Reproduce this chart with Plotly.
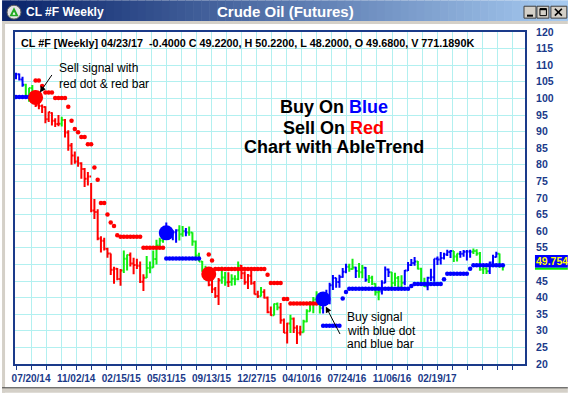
import plotly.graph_objects as go

# ---------------- data (weekly bars, 06/15/14 ... 04/23/17) ----------------
weeks = list(range(150))

opens = [106.9, 107.3, 105.7, 104.1, 100.8, 103.1, 102.1, 97.9, 97.7, 97.4,
         93.7, 95.6, 93.3, 92.3, 92.4, 93.5, 89.7, 85.8, 82.8, 81.0,
         80.5, 78.7, 75.8, 76.5, 66.2, 65.8, 57.8, 57.1, 54.7, 53.3,
         48.4, 48.7, 45.6, 48.2, 51.7, 52.8, 50.3, 49.8, 49.6, 44.8,
         46.0, 48.9, 49.1, 51.6, 55.7, 57.2, 59.2, 59.4, 59.7, 59.7,
         60.3, 59.1, 60.0, 59.6, 59.6, 56.9, 52.7, 50.9, 48.1, 47.1,
         43.9, 42.5, 40.5, 45.2, 46.05, 44.6, 44.7, 45.7, 45.5, 49.6,
         47.3, 44.6, 46.6, 44.3, 41.0, 40.4, 41.7, 39.97, 35.6, 34.7,
         38.1, 37.0, 33.2, 29.4, 32.2, 33.6, 30.9, 29.4, 29.6, 32.8,
         35.9, 38.5, 39.4, 39.5, 36.8, 39.7, 38.5, 43.7, 45.9, 44.7,
         46.2, 47.8, 49.3, 48.6, 49.1, 48.0, 47.6, 49.0, 45.4, 45.95,
         44.2, 41.6, 41.8, 44.5, 48.5, 47.6, 44.4, 45.9, 43.0, 44.5,
         48.2, 49.8, 50.4, 50.85, 48.7, 44.1, 43.4, 46.0, 46.1, 51.7,
         51.5, 51.9, 53.0, 53.7, 54.0, 52.4, 53.2, 53.2, 53.8, 53.9,
         53.8, 54.0, 53.3, 48.5, 48.8, 47.97, 50.6, 52.2, 53.2, 49.68]
highs = [107.7, 107.5, 106.5, 104.4, 103.2, 104.0, 102.3, 98.7, 98.2, 97.6,
         96.0, 95.8, 94.0, 95.0, 94.5, 93.8, 90.4, 86.6, 84.0, 82.5,
         80.8, 79.0, 77.8, 74.5, 69.7, 66.6, 58.5, 58.0, 55.0, 53.3,
         49.3, 48.9, 48.6, 54.2, 53.0, 53.6, 52.0, 51.7, 50.9, 47.0,
         52.5, 50.9, 54.2, 57.4, 58.0, 59.9, 62.6, 61.2, 60.3, 60.6,
         61.8, 61.6, 61.0, 61.4, 59.7, 57.2, 53.5, 51.0, 49.6, 47.8,
         45.3, 43.2, 45.9, 49.3, 47.7, 47.6, 47.0, 46.7, 50.9, 49.8,
         47.9, 47.1, 48.4, 45.0, 42.1, 43.2, 42.5, 40.3, 37.3, 38.2,
         38.5, 38.4, 33.7, 32.4, 34.8, 34.0, 31.7, 31.5, 33.3, 36.5,
         38.9, 40.2, 41.9, 39.7, 39.9, 42.4, 44.5, 46.8, 46.0, 46.9,
         48.9, 50.2, 50.2, 51.7, 49.3, 50.4, 49.8, 49.2, 46.8, 46.6,
         44.3, 42.5, 45.2, 49.4, 48.8, 47.7, 47.5, 46.5, 46.7, 48.3,
         50.7, 51.6, 52.2, 51.0, 49.0, 46.0, 46.3, 48.7, 51.7, 52.4,
         53.7, 53.5, 54.4, 54.3, 54.0, 53.3, 54.0, 54.3, 54.3, 54.4,
         54.8, 54.6, 53.7, 49.4, 49.1, 50.9, 52.9, 53.8, 53.3, 50.22]
lows = [105.8, 105.4, 103.5, 100.4, 99.0, 101.6, 97.4, 96.7, 95.6, 92.5,
        92.9, 91.8, 91.4, 91.6, 91.5, 88.2, 84.2, 80.0, 80.3, 79.4,
        75.8, 73.3, 73.8, 65.7, 63.7, 57.3, 53.6, 54.2, 52.0, 46.8,
        44.2, 45.2, 43.6, 47.4, 48.2, 49.4, 47.0, 48.6, 44.4, 42.0,
        45.9, 47.3, 49.0, 50.0, 54.8, 56.5, 58.0, 58.5, 57.3, 56.5,
        57.2, 58.3, 58.5, 58.6, 55.6, 51.2, 50.9, 47.8, 46.7, 43.4,
        41.4, 39.9, 37.75, 44.2, 43.6, 43.2, 43.6, 43.7, 45.2, 45.6,
        43.9, 42.6, 43.9, 40.9, 39.9, 40.3, 39.7, 35.3, 34.5, 34.6,
        36.2, 32.1, 29.3, 26.2, 29.3, 29.3, 26.05, 28.6, 29.5, 32.6,
        35.8, 35.3, 38.3, 35.2, 35.2, 39.6, 38.0, 42.3, 43.0, 43.0,
        46.0, 47.3, 47.8, 48.4, 45.9, 46.0, 45.8, 44.8, 44.4, 43.8,
        40.6, 39.2, 40.9, 44.3, 46.2, 43.0, 43.5, 42.9, 42.9, 43.7,
        48.0, 49.5, 49.6, 48.5, 44.0, 43.2, 42.2, 45.0, 44.8, 49.8,
        50.0, 51.5, 52.5, 51.9, 50.7, 50.9, 52.0, 52.3, 51.2, 52.0,
        53.1, 52.6, 48.1, 47.1, 47.1, 47.1, 50.0, 52.1, 49.0, 48.2]
closes = [107.3, 105.7, 104.1, 100.8, 103.1, 102.1, 97.9, 97.7, 97.4, 93.7,
          95.9, 93.3, 92.3, 92.4, 93.5, 89.7, 85.8, 82.8, 81.0, 80.5,
          78.7, 75.8, 76.5, 66.2, 65.8, 57.8, 57.1, 54.7, 53.3, 48.4,
          48.7, 45.6, 48.2, 51.7, 52.8, 50.3, 49.8, 49.6, 44.8, 46.0,
          48.9, 49.1, 51.6, 55.7, 57.2, 59.2, 59.4, 59.7, 59.7, 60.3,
          59.1, 60.0, 59.6, 59.6, 56.9, 52.7, 50.9, 48.1, 47.1, 43.9,
          42.5, 40.5, 45.2, 46.05, 44.6, 44.7, 45.7, 45.5, 49.6, 47.3,
          44.6, 46.6, 44.3, 41.0, 40.4, 41.7, 39.97, 35.6, 34.7, 38.1,
          37.04, 33.2, 29.4, 32.2, 33.6, 30.9, 29.4, 29.6, 32.8, 35.9,
          38.5, 39.4, 39.5, 36.8, 39.7, 40.4, 43.7, 45.9, 44.7, 46.2,
          47.8, 49.3, 48.6, 49.1, 48.0, 47.6, 49.0, 45.4, 45.95, 44.2,
          41.6, 41.8, 44.5, 48.5, 47.6, 44.4, 45.9, 43.0, 44.5, 48.2,
          49.8, 50.4, 50.85, 48.7, 44.1, 43.4, 46.0, 46.1, 51.7, 51.5,
          51.9, 53.0, 53.7, 54.0, 52.4, 53.2, 53.2, 53.8, 53.9, 53.8,
          54.0, 53.3, 48.5, 48.8, 47.97, 50.6, 52.2, 53.2, 49.6, 49.22]

# B = blue bar (up trend), G = green bar (neutral), R = red bar (down trend)
bar_trend = ("BBBGGGRRRRRRRRGRRRRRRRRRRRRRRRRRRGGRRRRRGGGGGGBBBBGGBGGGGGG"
             "RRRRGGRGGGRRRRRRGRRRGGRRRGRRRGGGGGGBBBBBBBBGGBGGBGGGGBBBGGGG"
             "BBBBGGGBBBBBBBBGGBBBBGGGGGBBBGG")

red_stop_weeks = [6, 7, 8, 9, 10, 11, 12, 13, 14, 15, 16, 17, 18, 19, 20, 21,
                  22, 23, 24, 25, 26, 27, 28, 29, 30, 31, 32, 33, 34, 35, 36,
                  37, 38, 39, 40, 41, 42, 43, 44, 45,
                  59, 60, 61, 62, 63, 64, 65, 66, 67, 68, 69, 70, 71, 72, 73,
                  74, 75, 76, 77, 78, 79, 80, 81, 82, 83, 84, 85, 86, 87, 88,
                  89, 90, 91, 92]
red_stop_values = [105.4, 105.4, 103.7, 101.8, 101.8, 101.8, 100.1, 100.1,
                   100.1, 100.1, 97.5, 93.3, 90.8, 89.8, 88.4, 88.4, 86.2,
                   86.2, 79.2, 75.5, 68.5, 68.5, 65.0, 62.6, 61.6, 58.8, 58.3,
                   58.3, 58.3, 58.3, 58.3, 58.3, 58.3, 55.0, 55.0, 55.0, 55.0,
                   55.0, 55.0, 55.0,
                   53.0, 51.2, 48.6, 48.6, 48.6, 48.6, 48.6, 48.6, 48.6, 48.6,
                   48.6, 48.6, 48.6, 48.6, 48.6, 48.6, 48.6, 48.6, 46.9, 44.4,
                   44.4, 44.4, 44.4, 39.6, 39.6, 38.2, 38.2, 38.2, 38.2, 38.2,
                   38.2, 38.2, 38.2, 38.2]
blue_stop_weeks = [0, 1, 2, 3, 4, 5,
                   46, 47, 48, 49, 50, 51, 52, 53, 54, 55, 56,
                   94, 95, 96, 97, 98, 99, 100, 101, 102, 103, 104, 105, 106,
                   107, 108, 109, 110, 111, 112, 113, 114, 115, 116, 117, 118,
                   119, 120, 121, 122, 123, 124, 125, 126, 127, 128, 129, 130,
                   131, 132, 133, 134, 135, 136, 137, 138, 139, 140, 141, 142,
                   143, 144, 145, 146, 147, 148, 149]
blue_stop_values = [100.4, 100.4, 100.4, 100.4, 100.4, 100.4,
                    51.8, 51.8, 51.8, 51.8, 51.8, 51.8, 51.8, 51.8, 51.8, 51.8,
                    51.8,
                    31.5, 31.5, 31.5, 31.5, 31.5, 31.5, 39.7, 41.7, 42.7, 42.7,
                    42.7, 42.7, 42.7, 42.7, 42.7, 42.7, 42.7, 42.7, 42.7, 42.7,
                    42.7, 42.7, 42.7, 42.7, 42.7, 42.7, 42.7, 43.5, 44.1, 44.1,
                    44.1, 44.1, 44.1, 44.1, 44.1, 44.1, 44.1, 45.5, 47.2, 47.2,
                    47.2, 47.2, 47.2, 47.2, 47.2, 48.7, 49.75, 49.75, 49.75,
                    49.75, 49.75, 49.75, 49.75, 49.75, 49.75, 49.75]

sell_signal_weeks = [6, 59]
sell_signal_prices = [100.3, 47.1]
buy_signal_weeks = [46, 94]
buy_signal_prices = [59.5, 39.6]

date_labels = ["07/20/14", "11/02/14", "02/15/15", "05/31/15", "09/13/15",
               "12/27/15", "04/10/16", "07/24/16", "11/06/16", "02/19/17"]
price_ticks = [20, 25, 30, 35, 40, 45, 50, 55, 60, 65, 70, 75, 80, 85, 90,
               95, 100, 105, 110, 115, 120]
# the "50" label is covered by the last-value marker in the original
price_tick_text = ["20", "25", "30", "35", "40", "45", "", "55", "60", "65",
                   "70", "75", "80", "85", "90", "95", "100", "105", "110",
                   "115", "120"]

header_text = ("CL #F [Weekly] 04/23/17  -0.4000 C 49.2200, H 50.2200, "
               "L 48.2000, O 49.6800, V 771.1890K")
last_value_text = "49.754"

# ---------------- styling / geometry ----------------
W, H = 568, 396
PL, PR, PT, PB = 13, 525, 32, 367          # plot box in pixels
PX_PER_WEEK = 3.28
GRID_PX = 15.1
FONT = "Liberation Sans, Arial, sans-serif"
NAVY = "#1a3a8a"
GRID = "#b2f0f0"
BAR_COLORS = {"B": "#0000ff", "G": "#11ee11", "R": "#ff0000"}


def fx(px):
    return (px - PL) / (PR - PL)


def fy(py):
    return (PB - py) / (PB - PT)


x_lo = (PL - 14) / PX_PER_WEEK
x_hi = (PR - 14) / PX_PER_WEEK
grid_vals = [k * GRID_PX / PX_PER_WEEK for k in range(34)]
grid_text = [""] * 34
for j, lab in enumerate(date_labels):
    grid_text[1 + 3 * j] = lab

fig = go.Figure()

for code, col in BAR_COLORS.items():
    idx = [i for i, c in enumerate(bar_trend) if c == code]
    fig.add_trace(go.Ohlc(
        x=[weeks[i] for i in idx],
        open=[opens[i] for i in idx],
        high=[highs[i] for i in idx],
        low=[lows[i] for i in idx],
        close=[closes[i] for i in idx],
        increasing=dict(line=dict(color=col, width=2)),
        decreasing=dict(line=dict(color=col, width=2)),
        tickwidth=0.45, hoverinfo="skip", showlegend=False))

fig.add_trace(go.Scatter(x=red_stop_weeks, y=red_stop_values, mode="markers",
                         marker=dict(color="#ff0000", size=4.5, line=dict(width=0)),
                         hoverinfo="skip", showlegend=False))
fig.add_trace(go.Scatter(x=blue_stop_weeks, y=blue_stop_values, mode="markers",
                         marker=dict(color="#0000ff", size=4.5, line=dict(width=0)),
                         hoverinfo="skip", showlegend=False))
fig.add_trace(go.Scatter(x=sell_signal_weeks, y=sell_signal_prices, mode="markers",
                         marker=dict(color="#ff0000", size=15, line=dict(width=0)),
                         hoverinfo="skip", showlegend=False))
fig.add_trace(go.Scatter(x=buy_signal_weeks, y=buy_signal_prices, mode="markers",
                         marker=dict(color="#0000ff", size=15, line=dict(width=0)),
                         hoverinfo="skip", showlegend=False))

shapes = []


def rect(x0, y0, x1, y1, fill, line=None, lw=0, layer="above"):
    shapes.append(dict(type="rect", xref="paper", yref="paper",
                       x0=fx(x0), x1=fx(x1), y0=fy(y1), y1=fy(y0),
                       fillcolor=fill, layer=layer,
                       line=dict(color=line or fill, width=lw)))


def seg(x0, y0, x1, y1, col, lw):
    shapes.append(dict(type="line", xref="paper", yref="paper",
                       x0=fx(x0), x1=fx(x1), y0=fy(y0), y1=fy(y1),
                       line=dict(color=col, width=lw)))


# title bar gradient
c0 = (10, 36, 106)
c1 = (166, 202, 240)
n = 71
for s in range(n):
    t = s / (n - 1)
    r, g, b = [int(round(a + (bb - a) * t)) for a, bb in zip(c0, c1)]
    rect(s * 8, 0, s * 8 + 8.6, 21, "rgb(%d,%d,%d)" % (r, g, b))
# window frame pieces
rect(0, 21, 568, 24, "#d4d0c8")
rect(0, 21, 3, 396, "#d4d0c8")
rect(0, 391, 568, 396, "#d4d0c8")
seg(0, 391, 568, 391, "#404040", 1)
# icon
shapes.append(dict(type="circle", xref="paper", yref="paper",
                   x0=fx(5), x1=fx(19), y0=fy(19), y1=fy(5),
                   fillcolor="#e4e4e4", line=dict(color="#606060", width=1)))
shapes.append(dict(type="path", xref="paper", yref="paper",
                   path="M %f %f L %f %f L %f %f Z" % (fx(7.5), fy(16), fx(12), fy(7), fx(16.5), fy(16)),
                   fillcolor="#22aa22", line=dict(width=0)))
shapes.append(dict(type="path", xref="paper", yref="paper",
                   path="M %f %f L %f %f L %f %f Z" % (fx(10.5), fy(14.5), fx(12), fy(11.5), fx(13.5), fy(14.5)),
                   fillcolor="#ffffff", line=dict(width=0)))
# window buttons
for bx0, bx1 in [(524, 536), (537, 549), (551, 567)]:
    rect(bx0, 6, bx1, 18, "#d4d0c8", "#404040", 1)
seg(527, 15.5, 533, 15.5, "#000000", 2)
rect(540, 8.5, 546.5, 15.5, "rgba(0,0,0,0)", "#000000", 1)
seg(540, 9, 546.5, 9, "#000000", 2)
seg(555, 8.5, 562, 15.5, "#000000", 1.6)
seg(555, 15.5, 562, 8.5, "#000000", 1.6)
# last value marker
rect(535, 257, 568, 270, "#0000ff")
seg(535, 271, 568, 271, "#00ee00", 2)

annotations = []


def label(px, py, text, size, color="#000000", xanchor="left", bold=False):
    annotations.append(dict(xref="paper", yref="paper", x=fx(px), y=fy(py),
                            text=("<b>%s</b>" % text) if bold else text,
                            showarrow=False, xanchor=xanchor, yanchor="middle",
                            borderpad=0,
                            font=dict(family=FONT, size=size, color=color)))


label(23, 11.5, "CL #F Weekly", 12, "#ffffff", bold=True)
label(285, 11.5, "Crude Oil (Futures)", 15, "#ffffff", "center", bold=True)
label(18, 43.5, header_text, 10.8, "#000000", bold=True)
label(535, 263.5, last_value_text, 10.5, "#ffff00", bold=True)
label(333, 108, "Buy On <span style='color:#0000ff'>Blue</span>", 18, bold=True, xanchor="center")
label(333, 128.5, "Sell On <span style='color:#ff0000'>Red</span>", 18, bold=True, xanchor="center")
label(333, 148.5, "Chart with AbleTrend", 18, bold=True, xanchor="center")
label(56.5, 68.5, "Sell signal with", 12)
label(56.5, 84, "red dot &amp; red bar", 12)
label(345, 320, "Buy signal", 12)
label(345, 333.5, "with blue dot", 12)
label(345, 347, "and blue bar", 12)

# arrows
annotations.append(dict(xref="paper", yref="paper", x=fx(38), y=fy(93), text="",
                        showarrow=True, ax=13, ay=-19, arrowhead=2, arrowsize=1.2,
                        arrowwidth=1, arrowcolor="#000000"))
annotations.append(dict(xref="paper", yref="paper", x=fx(325), y=fy(309), text="",
                        showarrow=True, ax=15, ay=29, arrowhead=2, arrowsize=1.2,
                        arrowwidth=1, arrowcolor="#000000"))

fig.update_layout(
    width=W, height=H,
    margin=dict(l=PL, r=W - PR, t=PT, b=H - PB, pad=0),
    paper_bgcolor="#ffffff", plot_bgcolor="#ffffff",
    showlegend=False, hovermode=False,
    shapes=shapes, annotations=annotations,
    xaxis=dict(range=[x_lo, x_hi], tickmode="array", tickvals=grid_vals,
               ticktext=grid_text, showgrid=True, gridcolor=GRID, gridwidth=1,
               showline=True, mirror=True, linecolor=NAVY, linewidth=2,
               ticks="outside", ticklen=4, tickcolor=NAVY, tickwidth=1,
               tickfont=dict(family=FONT, size=10, color=NAVY, weight="bold"),
               zeroline=False, rangeslider=dict(visible=False), fixedrange=True),
    yaxis=dict(range=[20, 120], side="right", tickmode="array",
               tickvals=price_ticks, ticktext=price_tick_text,
               showgrid=True, gridcolor=GRID, gridwidth=1,
               showline=True, mirror=True, linecolor=NAVY, linewidth=2,
               ticks="", ticklabelstandoff=7,
               tickfont=dict(family=FONT, size=10.5, color=NAVY, weight="bold"),
               zeroline=False, fixedrange=True),
)

fig.write_html("out.html",
               config={"displayModeBar": False, "staticPlot": True},
               post_script="document.body.style.margin='0';"
                           "document.body.style.padding='0';")
